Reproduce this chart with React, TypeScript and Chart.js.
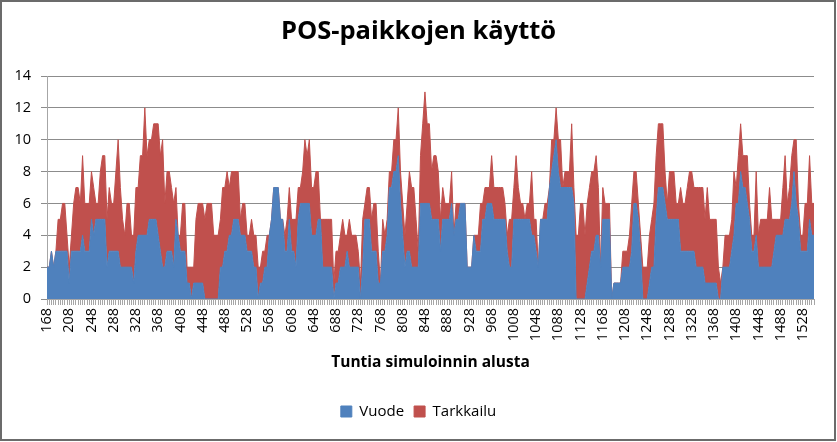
import React, { useEffect, useRef } from "react";
import { Chart, registerables } from "chart.js";

Chart.register(...registerables);

// Hours since simulation start, sampled every 4 hours
const START_HOUR = 168;
const STEP_HOURS = 4;
const LABEL_EVERY = 40;

const TITLE = "POS-paikkojen käyttö";
const X_TITLE = "Tuntia simuloinnin alusta";
const SERIES_NAMES = ["Vuode", "Tarkkailu"];
const Y_MIN = 0;
const Y_MAX = 14;
const Y_STEP = 2;

// Vuode (bed) – bottom series
const vuode = [
  2, 2, 3, 2, 3, 3, 3, 3, 3, 3, 1, 3, 3, 3, 3, 3, 4, 3, 3, 3,
  5, 4, 5, 5, 5, 5, 5, 2, 3, 3, 3, 3, 3, 2, 2, 2, 2, 2, 2, 1,
  3, 4, 4, 4, 4, 4, 5, 5, 5, 5, 4, 3, 2, 2, 3, 3, 3, 2,
  5, 4, 3, 3, 3, 1, 1, 0, 1, 1, 1, 1, 1, 0, 0, 0, 0, 0, 0, 0,
  2, 2, 3, 3, 4, 4, 5, 5, 5, 4, 4, 4, 3, 3, 3, 2, 2, 0, 1, 1,
  2, 2, 4, 5, 7, 7, 7, 5, 5, 3, 3, 5, 3, 3, 2, 5, 6, 6,
  6, 6, 6, 4, 4, 4, 5, 5, 2, 2, 2, 2, 2, 0, 1, 1, 2, 2, 2, 3,
  2, 2, 2, 2, 2, 0, 2, 5, 5, 5, 3, 3, 3, 1, 1, 3, 3, 4, 7, 7,
  8, 8, 9, 6, 4, 2, 3, 3, 2, 2, 2, 2, 6, 6, 6, 6, 6, 5,
  5, 5, 5, 3, 5, 5, 5, 5, 6, 4, 5, 5, 6, 6, 6, 2, 2, 2, 4, 3,
  3, 3, 5, 5, 6, 6, 6, 5, 5, 5, 5, 5, 5, 3, 2, 2, 5, 5, 5, 5,
  5, 5, 5, 5, 4, 4, 3, 2, 5, 5, 5, 5, 7, 8, 9, 10, 8, 7, 7,
  7, 7, 7, 7, 6, 0, 0, 0, 0, 0, 1, 2, 3, 3, 4, 4, 2, 5, 5, 5,
  5, 0, 1, 1, 1, 1, 2, 2, 2, 2, 3, 6, 6, 5, 3, 0, 0, 0, 1, 2,
  2, 5, 7, 7, 7, 6, 5, 5, 5, 5, 5, 5, 3, 3, 3, 3, 3, 3,
  3, 2, 2, 2, 2, 1, 1, 1, 1, 1, 1, 0, 0, 2, 2, 2, 2, 3, 4, 6,
  6, 8, 7, 7, 6, 5, 3, 3, 4, 2, 2, 2, 2, 2, 2, 2, 3, 4, 4, 4,
  4, 5, 5, 5, 6, 8, 6, 5, 3, 3, 3, 3, 5, 4, 4,
];

// Tarkkailu (observation) – stacked on top
const tarkkailu = [
  0, 0, 0, 0, 0, 2, 2, 3, 3, 1, 1, 1, 3, 4, 4, 3, 5, 3, 3, 3,
  3, 3, 1, 1, 3, 4, 4, 3, 4, 3, 3, 5, 7, 5, 3, 2, 4, 4, 2, 3,
  4, 3, 5, 5, 8, 5, 5, 5, 6, 6, 7, 6, 8, 4, 5, 5, 4, 4,
  2, 0, 1, 3, 3, 1, 1, 2, 1, 4, 5, 5, 5, 5, 6, 6, 6, 4, 4, 4,
  3, 5, 4, 5, 3, 4, 3, 3, 3, 1, 2, 2, 1, 1, 2, 2, 2, 2, 1, 2,
  1, 2, 0, 0, 0, 0, 0, 0, 0, 1, 2, 2, 2, 2, 3, 2, 1, 2,
  4, 3, 4, 3, 3, 4, 3, 0, 3, 3, 3, 3, 3, 1, 2, 2, 2, 3, 2, 1,
  3, 2, 2, 2, 1, 1, 3, 1, 2, 2, 2, 3, 3, 2, 0, 2, 1, 1, 1, 1,
  2, 2, 3, 2, 2, 2, 3, 5, 5, 5, 3, 1, 3, 5, 7, 5, 5, 3,
  4, 4, 3, 2, 2, 1, 1, 1, 2, 0, 1, 1, 0, 0, 0, 0, 0, 0, 0, 1,
  1, 3, 1, 2, 1, 1, 3, 2, 2, 2, 2, 2, 1, 1, 3, 3, 2, 4, 2, 1,
  1, 0, 1, 1, 4, 1, 2, 0, 0, 0, 1, 1, 0, 2, 1, 2, 2, 3, 0,
  1, 1, 1, 4, 1, 4, 4, 6, 6, 4, 5, 5, 5, 5, 5, 3, 0, 2, 1, 1,
  1, 0, 0, 0, 0, 0, 1, 1, 1, 2, 3, 2, 2, 1, 1, 2, 2, 2, 3, 3,
  4, 4, 4, 4, 4, 2, 1, 3, 3, 3, 1, 1, 4, 3, 3, 4, 5, 5,
  4, 5, 5, 5, 5, 4, 6, 4, 4, 4, 4, 2, 1, 0, 2, 2, 2, 2, 4, 1,
  3, 3, 2, 2, 3, 1, 1, 1, 4, 2, 3, 3, 3, 3, 5, 3, 2, 1, 1, 1,
  3, 4, 1, 2, 3, 2, 4, 1, 1, 1, 3, 3, 4, 2, 2,
];

const hours = vuode.map((_, i) => START_HOUR + i * STEP_HOURS);

const BLUE = "#4F81BD";
const RED = "#C0504D";
const FONT = "'Open Sans', Lato, 'Liberation Sans', sans-serif";

export default function App() {
  const ref = useRef<HTMLCanvasElement | null>(null);

  useEffect(() => {
    document.body.style.margin = "0";
    const canvas = ref.current;
    if (!canvas) return;
    const chart = new Chart(canvas, {
      type: "line",
      data: {
        labels: hours.map((h) => String(h)),
        datasets: [
          {
            label: SERIES_NAMES[0],
            data: vuode,
            backgroundColor: BLUE,
            borderColor: BLUE,
            borderWidth: 1,
            pointRadius: 0,
            fill: "origin",
          },
          {
            label: SERIES_NAMES[1],
            data: tarkkailu,
            backgroundColor: RED,
            borderColor: RED,
            borderWidth: 1,
            pointRadius: 0,
            fill: "-1",
          },
        ],
      },
      options: {
        responsive: false,
        animation: false,
        devicePixelRatio: 1,
        layout: { padding: { top: 0, bottom: 13, left: 0, right: 0 } },
        elements: { line: { tension: 0 } },
        plugins: {
          title: {
            display: true,
            text: TITLE,
            color: "#000",
            font: { family: FONT, size: 25.5, weight: "bold" },
            padding: { top: 16.9, bottom: 28.5 },
          },
          legend: {
            position: "bottom",
            labels: {
              boxWidth: 11,
              boxHeight: 11,
              padding: 10,
              color: "#000",
              font: { family: FONT, size: 15 },
            },
          },
          tooltip: { enabled: false },
        },
        scales: {
          x: {
            type: "category",
            offset: false,
            grid: {
              display: true,
              drawOnChartArea: false,
              drawTicks: true,
              tickLength: 6,
              color: "#a6a6a6",
            },
            border: { display: true, color: "#a6a6a6" },
            ticks: {
              autoSkip: false,
              minRotation: 90,
              maxRotation: 90,
              padding: 3,
              color: "#000",
              font: { family: FONT, size: 14.5 },
              callback: (_v: any, i: number) =>
                (hours[i] - START_HOUR) % LABEL_EVERY === 0 ? String(hours[i]) : "",
            },
            title: {
              display: true,
              text: X_TITLE,
              color: "#000",
              font: { family: FONT, size: 15.5, weight: "bold" },
              padding: { top: 0, bottom: 21.7 },
            },
            afterFit: (s: any) => {
              s.height = 95;
            },
          },
          y: {
            stacked: true,
            min: Y_MIN,
            max: Y_MAX,
            ticks: {
              stepSize: Y_STEP,
              padding: 10,
              color: "#000",
              font: { family: FONT, size: 14.5 },
            },
            grid: { color: "#8c8c8c", tickLength: 6, drawTicks: true },
            border: { display: true, color: "#a6a6a6" },
            afterFit: (s: any) => {
              s.width = 47;
            },
          },
          yRight: {
            position: "right",
            display: true,
            grid: { display: false },
            ticks: { display: false },
            border: { display: false },
            afterFit: (s: any) => {
              s.width = 23;
            },
          },
        },
      } as any,
    });
    return () => chart.destroy();
  }, []);

  return (
    <div style={{ position: "relative", width: 837, height: 442, background: "#fff" }}>
      <canvas ref={ref} width={837} height={442} style={{ position: "absolute", left: 0, top: 0, display: "block" }} />
      <div
        style={{
          position: "absolute",
          left: 0,
          top: 0,
          width: 836,
          height: 441,
          boxSizing: "border-box",
          border: "2px solid #6b6b6b",
          pointerEvents: "none",
        }}
      />
    </div>
  );
}
